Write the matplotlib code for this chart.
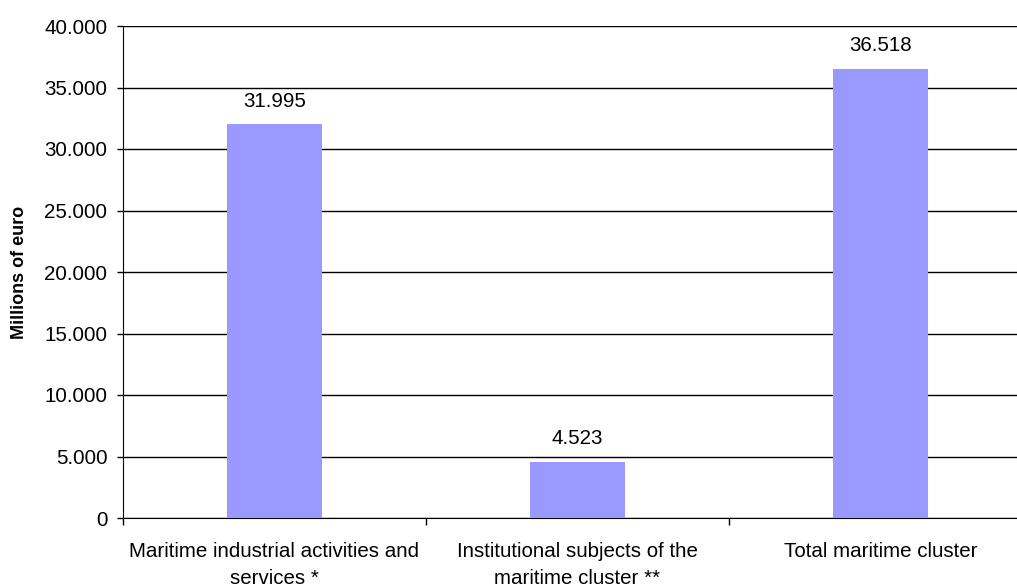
import matplotlib
matplotlib.use("Agg")
import matplotlib.pyplot as plt
from matplotlib.ticker import FuncFormatter, FixedLocator

categories = [
    "Maritime industrial activities and\nservices *",
    "Institutional subjects of the\nmaritime cluster **",
    "Total maritime cluster",
]
values = [31995, 4523, 36518]
value_labels = ["31.995", "4.523", "36.518"]
y_ticks = [0, 5000, 10000, 15000, 20000, 25000, 30000, 35000, 40000]

plt.rcParams["font.family"] = ["Liberation Sans", "DejaVu Sans"]
FS = 14.8

fig = plt.figure(figsize=(10.17, 5.87), dpi=100)
ax = fig.add_axes([123 / 1017, 1 - 518 / 587, (1032 - 123) / 1017, (518 - 26) / 587])

x = list(range(len(categories)))
bars = ax.bar(x, values, width=0.315, color="#9999FF", zorder=3)

for rect, lab in zip(bars, value_labels):
    ax.annotate(lab, (rect.get_x() + rect.get_width() / 2, rect.get_height()),
                xytext=(0, 10), textcoords="offset points",
                ha="center", va="bottom", fontsize=FS)

ax.set_xlim(-0.5, len(categories) - 0.5)
ax.set_ylim(0, 40000)
ax.set_yticks(y_ticks)
ax.yaxis.set_major_formatter(FuncFormatter(
    lambda v, p: "0" if v == 0 else f"{int(v):,}".replace(",", ".")))
ax.yaxis.grid(True, color="#000000", linewidth=1.0, zorder=0)
ax.set_axisbelow(True)

# category labels centred under bars, separator ticks between categories
ax.set_xticks(x)
ax.set_xticklabels(categories, fontsize=FS, linespacing=1.55)
ax.tick_params(axis="x", which="major", length=0, pad=17)
ax.xaxis.set_minor_locator(FixedLocator([i - 0.5 for i in range(len(categories) + 1)]))
ax.tick_params(axis="x", which="minor", length=5, width=1, color="#000000")
ax.tick_params(axis="y", length=4.3, width=1, labelsize=FS, pad=7)

for side in ("top", "right"):
    ax.spines[side].set_visible(False)
ax.spines["left"].set_color("#000000")
ax.spines["bottom"].set_color("#000000")

ax.set_ylabel("Millions of euro", fontsize=13, fontweight="bold", labelpad=12)

fig.savefig("out.png", dpi=100)
